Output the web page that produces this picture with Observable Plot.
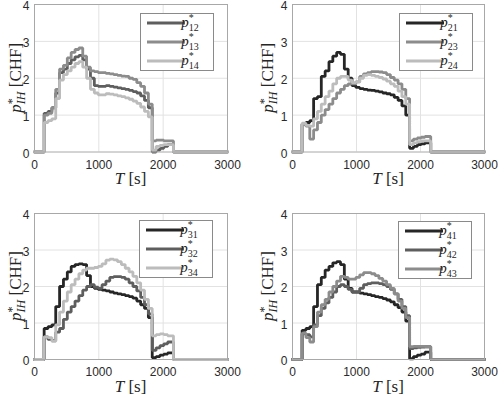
<!DOCTYPE html>
<html><head><meta charset="utf-8">
<script src="https://cdn.jsdelivr.net/npm/d3@7"></script>
<script src="https://cdn.jsdelivr.net/npm/@observablehq/plot@0.6"></script>
<style>
body{margin:0;background:#fff;}
#wrap{position:relative;width:498px;height:399px;overflow:hidden;background:#fff;}
.panel{position:absolute;}
text.serif, text.serif tspan{font-family:'Liberation Serif','DejaVu Serif',serif !important;}
</style></head><body><div id="wrap"></div>
<script>
// time breakpoints [s]
const times = [0,150,210,270,330,390,450,510,570,630,690,750,810,870,930,990,1050,1110,1170,1230,1290,1350,1410,1470,1530,1590,1650,1710,1770,1830,1890,1950,2010,2070,2160,3000];
const xTicks = [0,1000,2000,3000];
const yTicks = [0,1,2,3,4];

// panel 1
const p12 = [0,1.05,1.1,1.2,1.6,2.15,2.25,2.4,2.5,2.58,2.62,2.5,2.25,2.0,1.8,1.78,1.78,1.8,1.78,1.76,1.74,1.72,1.7,1.67,1.64,1.6,1.52,1.4,1.2,0.0,0.05,0.1,0.15,0.2,0,0];
const p13 = [0,1.0,1.05,1.2,1.7,2.25,2.35,2.55,2.7,2.78,2.82,2.6,2.3,2.2,2.18,2.15,2.15,2.13,2.12,2.1,2.08,2.06,2.05,2.0,1.97,1.88,1.78,1.6,1.3,0.3,0.32,0.32,0.3,0.3,0,0];
const p14 = [0,0.8,0.85,0.9,1.45,1.95,2.1,2.2,2.3,2.4,2.45,2.3,2.0,1.7,1.6,1.55,1.55,1.58,1.57,1.55,1.52,1.5,1.47,1.43,1.38,1.32,1.22,1.1,0.95,0.05,0.15,0.18,0.2,0.2,0,0];
// panel 2
const p21 = [0,0.75,0.8,0.85,1.45,1.5,2.05,2.2,2.45,2.6,2.7,2.65,2.25,2.0,1.8,1.75,1.72,1.7,1.68,1.67,1.65,1.63,1.6,1.58,1.55,1.48,1.4,1.25,1.0,0.1,0.15,0.2,0.22,0.25,0,0];
const p23 = [0,0.75,0.7,0.35,0.6,0.8,1.0,1.15,1.3,1.45,1.6,1.7,1.8,1.85,1.85,1.9,2.05,2.12,2.15,2.18,2.18,2.17,2.15,2.1,2.02,1.95,1.85,1.7,1.45,0.3,0.35,0.38,0.4,0.42,0,0];
const p24 = [0,0.78,0.72,0.7,0.9,1.1,1.3,1.5,1.65,1.85,2.0,2.05,2.05,1.95,1.88,1.9,2.0,2.08,2.1,2.08,2.05,2.02,1.98,1.92,1.85,1.78,1.65,1.5,1.3,0.2,0.25,0.28,0.3,0.3,0,0];
// panel 3
const p31 = [0,0.85,0.9,0.95,1.45,2.0,2.2,2.4,2.55,2.6,2.62,2.6,2.3,2.0,1.95,1.92,1.9,1.88,1.85,1.82,1.8,1.78,1.75,1.72,1.68,1.6,1.5,1.4,1.15,0.05,0.08,0.12,0.15,0.18,0,0];
const p32 = [0,0.62,0.55,0.52,0.75,0.85,1.1,1.3,1.45,1.6,1.75,1.9,2.0,2.05,1.98,1.95,2.05,2.15,2.25,2.27,2.27,2.25,2.2,2.1,2.0,1.88,1.7,1.5,1.25,0.25,0.32,0.38,0.43,0.48,0,0];
const p34 = [0,0.62,0.6,0.5,0.95,1.3,1.6,1.85,2.05,2.2,2.35,2.45,2.5,2.5,2.52,2.55,2.62,2.72,2.75,2.73,2.68,2.6,2.5,2.4,2.28,2.1,1.9,1.65,1.4,0.65,0.68,0.7,0.68,0.65,0,0];
// panel 4
const p41 = [0,0.8,0.85,0.9,1.45,2.05,2.25,2.45,2.55,2.65,2.68,2.6,2.2,1.95,1.85,1.85,1.82,1.8,1.78,1.75,1.72,1.7,1.67,1.63,1.58,1.5,1.42,1.3,1.05,0.02,0.08,0.12,0.15,0.2,0,0];
const p42 = [0,0.7,0.68,0.62,0.95,1.2,1.4,1.55,1.7,1.85,2.0,2.05,2.0,1.92,1.85,1.85,1.95,2.05,2.08,2.1,2.1,2.08,2.05,2.0,1.92,1.8,1.65,1.45,1.2,0.3,0.32,0.33,0.34,0.35,0,0];
const p43 = [0,0.72,0.6,0.48,0.9,1.3,1.5,1.65,1.85,2.0,2.15,2.28,2.25,2.2,2.2,2.25,2.32,2.38,2.38,2.35,2.3,2.22,2.15,2.05,1.95,1.8,1.6,1.4,1.15,0.35,0.36,0.36,0.36,0.35,0,0];

const shade = {"1":"#262626","2":"#5e5e5e","3":"#8c8c8c","4":"#bcbcbc"};

const panels = [
  {series:[["12",p12],["13",p13],["14",p14]], left:0, top:0, w:249, h:200, mt:4, ml:34, mr:22, mb:48.5, lg:[140,13], ylx:21, xly:184},
  {series:[["21",p21],["23",p23],["24",p24]], left:249, top:0, w:249, h:200, mt:4, ml:43, mr:14, mb:48.5, lg:[150,13], ylx:24, xly:184},
  {series:[["31",p31],["32",p32],["34",p34]], left:0, top:200, w:249, h:199, mt:13, ml:34, mr:22, mb:40, lg:[139,20], ylx:21, xly:192},
  {series:[["41",p41],["42",p42],["43",p43]], left:249, top:200, w:249, h:199, mt:13, ml:43, mr:14, mb:40, lg:[149,21], ylx:24, xly:192}
];

const wrap = document.getElementById("wrap");

for (const P of panels) {
  const marks = [
    Plot.gridX([1000,2000], {stroke:"#e2e2e2", strokeOpacity:1}),
    Plot.gridY([1,2,3], {stroke:"#e2e2e2", strokeOpacity:1})
  ];
  for (const [name, vals] of P.series) {
    const data = times.map((t,i)=>({t, v: vals[i]}));
    marks.push(Plot.line(data, {x:"t", y:"v", curve:"step-after", stroke: shade[name[1]], strokeWidth:2.8, strokeLinejoin:"miter"}));
  }
  marks.push(Plot.frame({stroke:"#a8a8a8"}));
  marks.push(Plot.axisX(xTicks, {tickSize:0, tickPadding:8, label:null, tickFormat:"d", fill:"#2a2a2a"}));
  marks.push(Plot.axisY(yTicks, {tickSize:0, tickPadding:5, label:null, tickFormat:"d", fill:"#2a2a2a", dy:2}));
  const svg = Plot.plot({
    width:P.w, height:P.h,
    marginTop:P.mt, marginLeft:P.ml, marginRight:P.mr, marginBottom:P.mb,
    x:{domain:[0,3000]}, y:{domain:[0,4]},
    style:{fontSize:"12px", fontFamily:"'Liberation Sans',Arial,sans-serif", background:"white", overflow:"visible"},
    marks
  });
  const div = document.createElement("div");
  div.className = "panel";
  div.style.left = P.left + "px";
  div.style.top = P.top + "px";
  div.appendChild(svg);
  wrap.appendChild(div);

  const s = d3.select(svg);
  const cx = (P.ml + P.w - P.mr) / 2;
  const cy = (P.mt + P.h - P.mb) / 2;
  // x label
  const xl = s.append("text").attr("class","serif").attr("x", cx).attr("y", P.xly).attr("text-anchor","middle")
    .style("font-size","17px").style("font-weight","normal").attr("fill","#262626");
  xl.append("tspan").style("font-style","italic").text("T");
  xl.append("tspan").text("\u00a0[s]");
  // y label
  const yl = s.append("text").attr("class","serif").attr("transform", `translate(${P.ylx},${cy}) rotate(-90)`).attr("text-anchor","middle")
    .style("font-size","17px").style("font-weight","normal").attr("fill","#262626");
  yl.append("tspan").style("font-style","italic").text("p");
  yl.append("tspan").style("font-size","12px").attr("dy", -5).text("*");
  yl.append("tspan").style("font-size","12px").style("font-style","italic").attr("dx", -6).attr("dy", 9).text("IH");
  yl.append("tspan").attr("dy", -4).text("\u00a0[CHF]");
  // legend
  const [lx, ly] = P.lg;
  const g = s.append("g").attr("transform", `translate(${lx},${ly})`);
  g.append("rect").attr("x",0.5).attr("y",0.5).attr("width",73).attr("height",57)
    .attr("fill","white").attr("stroke","#8a8a8a").attr("stroke-width",1);
  P.series.forEach(([name], i) => {
    const yy = 10 + i*19;
    g.append("line").attr("x1",7).attr("x2",45).attr("y1",yy).attr("y2",yy)
      .attr("stroke", shade[name[1]]).attr("stroke-width",2.8);
    const t = g.append("text").attr("class","serif").attr("x",50).attr("y",yy+4)
      .style("font-size","15px").attr("fill","#262626");
    t.append("tspan").style("font-style","italic").text("p");
    t.append("tspan").style("font-size","10px").attr("dy",-6).text("*");
    t.append("tspan").style("font-size","10px").attr("dx",-5).attr("dy",10).text(name);
  });
}
</script>
</body></html>
